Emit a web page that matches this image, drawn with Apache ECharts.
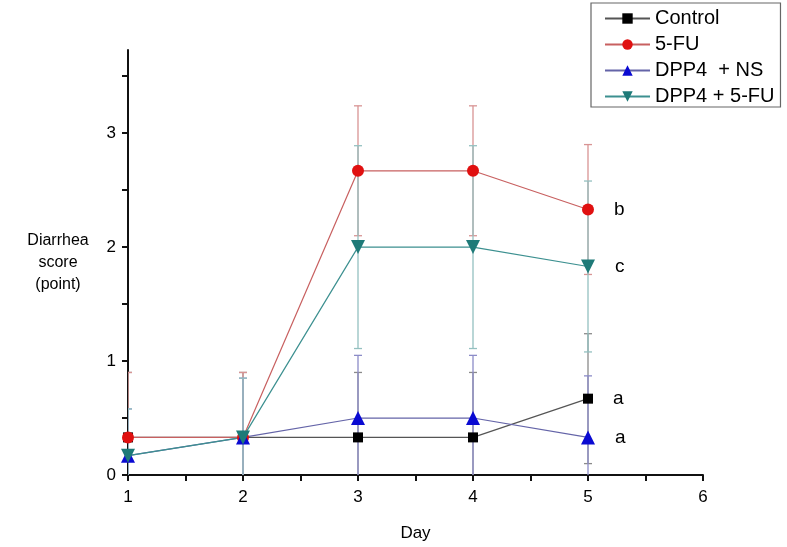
<!DOCTYPE html>
<html>
<head>
<meta charset="utf-8">
<script src="https://cdn.jsdelivr.net/npm/echarts@6/dist/echarts.min.js"></script>
<style>
  html, body { margin: 0; padding: 0; background: #fff; }
  #chart { width: 787px; height: 547px; }
</style>
</head>
<body>
<div id="chart"></div>
<script>
// days and group means / SD
var days = [1, 2, 3, 4, 5];
var control = [0.33, 0.33, 0.33, 0.33, 0.67];
var controlErr = [0.57, 0.57, 0.57, 0.57, 0.57];
var fu = [0.33, 0.33, 2.67, 2.67, 2.33];
var fuErr = [0.57, 0.57, 0.57, 0.57, 0.57];
var dppNs = [0.17, 0.33, 0.5, 0.5, 0.33];
var dppNsErr = [0.41, 0.52, 0.55, 0.55, 0.54];
var dppFu = [0.17, 0.33, 2.0, 2.0, 1.83];
var dppFuErr = [0.41, 0.52, 0.89, 0.89, 0.75];
var letters = ['a', 'b', 'a', 'c'];

var yTicks = [0, 0.5, 1, 1.5, 2, 2.5, 3, 3.5];
var yLabels = [0, 1, 2, 3];
var xTicks = [1, 1.5, 2, 2.5, 3, 3.5, 4, 4.5, 5, 5.5, 6];
var xLabels = [1, 2, 3, 4, 5, 6];

var chart = echarts.init(document.getElementById('chart'));
var font = 'Liberation Sans, Arial, sans-serif';

function pts(vals) {
  return days.map(function (d, i) { return [d, vals[i]]; });
}
function errPts(vals, errs) {
  return days.map(function (d, i) { return [d, vals[i], errs[i]]; });
}

function errSeries(name, vals, errs, color) {
  return {
    type: 'custom',
    name: name + ' err',
    clip: true,
    z: 1,
    silent: true,
    encode: { x: 0, y: 1 },
    data: errPts(vals, errs),
    renderItem: function (params, api) {
      var x = api.value(0), y = api.value(1), e = api.value(2);
      var hi = api.coord([x, y + e]);
      var lo = api.coord([x, y - e]);
      var w = 4;
      var st = { stroke: color, lineWidth: 1.3 };
      return {
        type: 'group',
        children: [
          { type: 'line', shape: { x1: hi[0], y1: hi[1], x2: lo[0], y2: lo[1] }, style: st },
          { type: 'line', shape: { x1: hi[0] - w, y1: hi[1], x2: hi[0] + w, y2: hi[1] }, style: st },
          { type: 'line', shape: { x1: lo[0] - w, y1: lo[1], x2: lo[0] + w, y2: lo[1] }, style: st }
        ]
      };
    }
  };
}

function lineSeries(name, vals, lineColor, markColor, symbol, size, letter) {
  return {
    type: 'line',
    name: name,
    z: 3,
    data: pts(vals),
    symbol: symbol,
    symbolSize: size,
    showAllSymbol: true,
    clip: false,
    lineStyle: { color: lineColor, width: 1.2 },
    itemStyle: { color: markColor },
    label: {
      show: true,
      position: 'right',
      distance: 20,
      color: '#000',
      fontSize: 19,
      fontFamily: font,
      formatter: function (p) { return p.dataIndex === days.length - 1 ? letter : ''; }
    },
    emphasis: { disabled: true }
  };
}

var option = {
  animation: false,
  backgroundColor: '#fff',
  grid: { left: 128, right: 84, top: 50, bottom: 69 },
  legend: {
    orient: 'vertical',
    left: 591,
    top: 3,
    padding: [5, 6, 0, 13],
    borderColor: '#666',
    borderWidth: 1.2,
    itemWidth: 45,
    itemHeight: 13,
    itemGap: 5,
    data: ['Control', '5-FU', 'DPP4  + NS', 'DPP4 + 5-FU'],
    textStyle: { fontSize: 20, fontFamily: font, color: '#000', lineHeight: 21 }
  },
  xAxis: {
    type: 'value',
    min: 1,
    max: 6,
    interval: 1,
    name: 'Day',
    nameLocation: 'middle',
    nameGap: 50,
    nameTextStyle: { fontSize: 17, fontFamily: font, color: '#000' },
    axisLine: { lineStyle: { color: '#111', width: 2 } },
    axisTick: { show: true, length: 6, customValues: xTicks, lineStyle: { color: '#111', width: 2 } },
    axisLabel: { customValues: xLabels, margin: 14, fontSize: 17, fontFamily: font, color: '#000' },
    splitLine: { show: false }
  },
  yAxis: {
    type: 'value',
    min: 0,
    max: 3.73,
    interval: 1,
    name: 'Diarrhea\nscore\n(point)',
    nameLocation: 'middle',
    nameRotate: 0,
    nameGap: 70,
    nameTextStyle: { fontSize: 16, fontFamily: font, color: '#000', lineHeight: 22, align: 'center' },
    axisLine: { show: true, lineStyle: { color: '#111', width: 2 } },
    axisTick: { show: true, length: 6, customValues: yTicks, lineStyle: { color: '#111', width: 2 } },
    axisLabel: { customValues: yLabels, margin: 12, fontSize: 17, fontFamily: font, color: '#000' },
    splitLine: { show: false }
  },
  series: [
    errSeries('Control', control, controlErr, '#8a8a8a'),
    errSeries('5-FU', fu, fuErr, '#d89494'),
    errSeries('DPP4  + NS', dppNs, dppNsErr, '#8c8cc8'),
    errSeries('DPP4 + 5-FU', dppFu, dppFuErr, '#94c0c0'),
    lineSeries('Control', control, '#555555', '#000000', 'rect', 10, letters[0]),
    lineSeries('5-FU', fu, '#c86060', '#e01010', 'circle', 12, letters[1]),
    lineSeries('DPP4  + NS', dppNs, '#6464a8', '#0a0ad2', 'triangle', 14, letters[2]),
    lineSeries('DPP4 + 5-FU', dppFu, '#3c9090', '#1e7a78', 'path://M0,0 L10,0 L5,9 Z', 14, letters[3])
  ]
};

chart.setOption(option);
</script>
</body>
</html>
